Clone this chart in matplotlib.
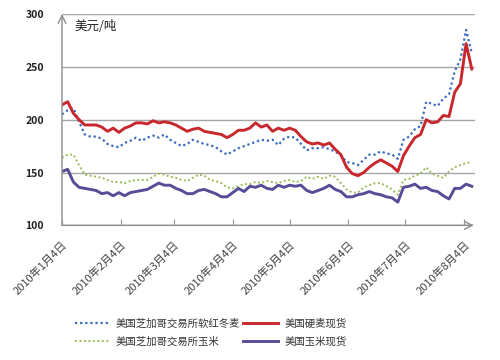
import matplotlib
matplotlib.use('Agg')
import matplotlib.pyplot as plt
import pandas as pd

plt.rcParams['font.family'] = ['Noto Sans CJK SC', 'DejaVu Sans']

# one sample every 3 calendar days, 2010-01-04 .. 2010-08-09
dates = pd.date_range('2010-01-04', '2010-08-09', freq='3D')

wheat_cbot = [205, 209, 211, 198, 186, 184, 184, 182, 177, 175,
              174, 178, 180, 183, 180, 183, 185, 183, 186, 181,
              178, 175, 177, 181, 179, 177, 176, 174, 170, 167,
              170, 173, 175, 177, 179, 181, 180, 181, 176, 182,
              184, 183, 177, 171, 173, 173, 174, 172, 170, 166,
              160, 159, 157, 162, 167, 167, 170, 168, 167, 163,
              181, 184, 191, 194, 217, 215, 213, 220, 224, 246,
              257, 285, 263]
wheat_spot = [214, 217, 206, 200, 195, 195, 195, 193, 189, 192,
              188, 192, 194, 197, 197, 196, 199, 197, 198, 197,
              195, 192, 189, 191, 192, 189, 188, 187, 186, 183,
              186, 190, 190, 192, 197, 193, 195, 189, 192, 190,
              192, 190, 184, 179, 177, 178, 176, 178, 172, 167,
              155, 149, 147, 150, 155, 159, 162, 159, 156, 151,
              166, 175, 183, 186, 200, 197, 198, 204, 203, 226,
              234, 272, 248]
corn_cbot = [164, 167, 167, 157, 148, 147, 146, 145, 143, 141,
             141, 140, 142, 143, 143, 143, 146, 149, 148, 146,
             145, 143, 142, 145, 148, 147, 143, 142, 140, 136,
             135, 137, 139, 139, 141, 140, 142, 141, 140, 142,
             143, 141, 142, 146, 144, 146, 144, 147, 146, 140,
             134, 131, 131, 136, 138, 140, 140, 137, 134, 129,
             143, 144, 147, 149, 155, 149, 147, 145, 151, 155,
             157, 159, 160]
corn_spot = [151, 153, 141, 136, 135, 134, 133, 130, 131, 128,
             131, 128, 131, 132, 133, 134, 137, 140, 138, 138,
             135, 133, 130, 130, 133, 134, 132, 130, 127, 127,
             131, 135, 132, 137, 136, 138, 135, 134, 138, 136,
             138, 137, 138, 133, 131, 133, 135, 138, 134, 132,
             127, 127, 129, 130, 132, 130, 129, 127, 126, 122,
             136, 137, 139, 135, 136, 133, 132, 128, 125, 135,
             135, 139, 137]

labels = ['美国芝加哥交易所软红冬麦', '美国芝加哥交易所玉米', '美国硬麦现货', '美国玉米现货']
tick_dates = pd.to_datetime(['2010-01-04', '2010-02-04', '2010-03-04', '2010-04-04',
                             '2010-05-04', '2010-06-04', '2010-07-04', '2010-08-04'])
tick_labels = ['2010年%d月4日' % m for m in range(1, 9)]
yticks = [100, 150, 200, 250, 300]

fig = plt.figure(figsize=(5, 3.6), dpi=100, facecolor='white')
ax = fig.add_axes([0.124, 0.374, 0.826, 0.587])

l1, = ax.plot(dates, wheat_cbot, color='#3A6BC0', lw=1.6, ls=(0, (1, 1.3)))
l2, = ax.plot(dates, corn_cbot, color='#9BBB59', lw=1.4, ls=(0, (1, 1.3)))
l3, = ax.plot(dates, wheat_spot, color='#C8282D', lw=2.1)
l4, = ax.plot(dates, corn_spot, color='#574D97', lw=2.1)

ax.set_xlim(pd.Timestamp('2010-01-04'), pd.Timestamp('2010-08-09') + pd.Timedelta(days=0.7))
ax.set_ylim(100, 300)
ax.set_yticks(yticks)
ax.set_yticklabels([str(v) for v in yticks], fontsize=7.5, fontweight='bold', color='#222222')
ax.set_xticks(tick_dates)
ax.set_xticklabels(tick_labels, rotation=45, ha='right', va='top',
                   rotation_mode='anchor', fontsize=8, color='#444444')
ax.tick_params(axis='y', length=0, pad=13)
ax.tick_params(axis='x', direction='in', length=4, color='#999999', pad=10)
ax.grid(axis='y', color='#A6A6A6', lw=1)
ax.set_axisbelow(True)
for s in ['top', 'right', 'left', 'bottom']:
    ax.spines[s].set_visible(False)

# axis lines with open arrow heads
ax.annotate('', xy=(0, 1), xytext=(0, 0), xycoords='axes fraction',
            arrowprops=dict(arrowstyle='->', color='#8C8C8C', lw=1, mutation_scale=14,
                            shrinkA=0, shrinkB=0))
ax.annotate('', xy=(0.997, 0), xytext=(0, 0), xycoords='axes fraction',
            arrowprops=dict(arrowstyle='->', color='#8C8C8C', lw=1, mutation_scale=14,
                            shrinkA=0, shrinkB=0))

ax.text(0.031, 0.925, '美元/吨', transform=ax.transAxes, fontsize=9, color='#222222')

fig.legend([l1, l2, l3, l4], labels, loc='upper left', bbox_to_anchor=(0.14, 0.13),
           ncol=2, frameon=False, fontsize=7.5, handlelength=3.3, handletextpad=0.6,
           columnspacing=0.3, labelspacing=0.75, borderpad=0, labelcolor='#333333')

fig.savefig('out.png', dpi=100, facecolor='white')
